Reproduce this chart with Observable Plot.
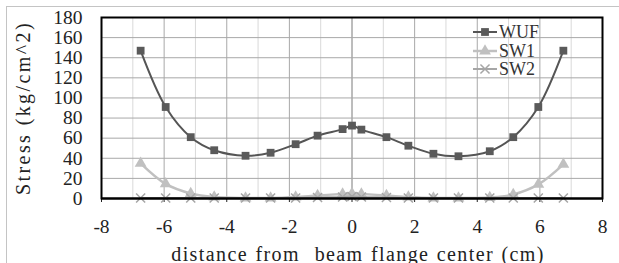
<!DOCTYPE html>
<html>
<head>
<meta charset="utf-8">
<script src="https://cdn.jsdelivr.net/npm/d3@7"></script>
<script src="https://cdn.jsdelivr.net/npm/@observablehq/plot@0.6"></script>
<style>
  html, body { margin: 0; padding: 0; background: #fff; }
  #wrap { position: relative; width: 619px; height: 263px; overflow: hidden; }
  #chart svg, #chart svg text { font-family: "Liberation Serif", serif !important; }
  #border { position: absolute; left: 6px; top: 6px; width: 640px; height: 300px;
            border-left: 1px solid #c4c4c4; border-top: 1px solid #c4c4c4; pointer-events: none; }
  #legend { position: absolute; left: 472px; top: 23px; font-family: "Liberation Serif", serif;
            font-size: 18px; line-height: 18.5px; color: #333; }
  #legend .row { display: flex; align-items: center; height: 18.5px; }
  #legend svg { display: block; margin-right: 1px; }
</style>
</head>
<body>
<div id="wrap">
  <div id="chart"></div>
  <div id="legend"></div>
  <div id="border"></div>
</div>
<script>
const distance = [-6.75, -5.95, -5.15, -4.4, -3.4, -2.6, -1.8, -1.1, -0.3, 0, 0.3, 1.1, 1.8, 2.6, 3.4, 4.4, 5.15, 5.95, 6.75];
const WUF = [147, 91, 61, 48, 42.5, 45.5, 54, 62.5, 69, 72.5, 68.5, 61, 52.5, 44.5, 42, 47, 61, 91, 147];
const SW1 = [35, 14.5, 5, 1.5, 0.5, 0.5, 1.5, 3, 4.5, 5, 4.5, 3, 1.5, 0.5, 0.5, 1, 4, 14, 34];
const SW2 = [0.5, 0.5, 0.5, 0.5, 0.5, 0.5, 0.5, 1, 1.5, 2, 1.5, 1, 0.5, 0.5, 0.5, 0.5, 0.5, 0.5, 0.5];
const seriesNames = ["WUF", "SW1", "SW2"];
const xTicks = [-8, -6, -4, -2, 0, 2, 4, 6, 8];
const yTicks = [0, 20, 40, 60, 80, 100, 120, 140, 160, 180];
const xTitle = "distance from  beam flange center (cm)";
const yTitle = "Stress (kg/cm^2)";

const seriesValues = {WUF, SW1, SW2};
const styles = {
  WUF: {stroke: "#555555", fill: "#5a5a5a", symbol: "square", r: 4.4, sw: 2},
  SW1: {stroke: "#c0c0c0", fill: "#c0c0c0", symbol: "triangle", r: 4.4, sw: 2.5},
  SW2: {stroke: "#a6a6a6", fill: "none", symbol: "times", r: 4.2, sw: 2}
};
const rows = seriesNames.flatMap(s => distance.map((d, i) => ({series: s, x: d, y: seriesValues[s][i]})));

const oddGrid = d3.range(-7, 8, 2);
const evenGrid = [-6, -4, -2, 2, 4, 6];

const marks = [
  Plot.ruleX(oddGrid, {x: d => d, stroke: "#d9d9d9", strokeWidth: 1}),
  Plot.ruleX(evenGrid, {x: d => d, stroke: "#a8a8a8", strokeWidth: 1}),
  Plot.ruleX([0], {x: d => d, stroke: "#7a7a7a", strokeWidth: 1}),
  Plot.ruleY(yTicks.slice(1), {y: d => d, stroke: "#a8a8a8", strokeWidth: 1}),
  Plot.axisX({ticks: xTicks, tickFormat: d => String(d), tickSize: 4, tickPadding: 17, fontSize: 19.5, label: null}),
  Plot.axisX({ticks: [], label: xTitle, labelAnchor: "center", labelArrow: "none", labelOffset: 62, fontSize: 20}),
  Plot.axisY({ticks: yTicks, tickFormat: d => String(d), tickSize: 0, tickPadding: 19, fontSize: 19.5, label: null}),
  Plot.axisY({ticks: [], label: yTitle, labelAnchor: "center", labelArrow: "none", labelOffset: 86, fontSize: 20})
];
for (const s of seriesNames) {
  const st = styles[s];
  const data = rows.filter(d => d.series === s);
  marks.push(Plot.line(data, {x: "x", y: "y", stroke: st.stroke, strokeWidth: st.sw, curve: "catmull-rom"}));
  marks.push(Plot.dot(data, {x: "x", y: "y", symbol: st.symbol, r: st.r,
    fill: st.fill === "none" ? null : st.fill, stroke: st.stroke, strokeWidth: st.fill === "none" ? 1.5 : 0}));
}
marks.push(Plot.ruleY([0], {y: d => d, stroke: "#000", strokeWidth: 2}));
marks.push(Plot.frame({stroke: "#000", strokeWidth: 2}));

const chart = Plot.plot({
  width: 619,
  height: 263,
  marginLeft: 101,
  marginRight: 17,
  marginTop: 17,
  marginBottom: 65,
  x: {domain: [-8, 8]},
  y: {domain: [0, 180]},
  style: {fontFamily: "Liberation Serif, serif", fontSize: "19px", color: "#222", background: "#fff", overflow: "visible"},
  marks
});
document.getElementById("chart").appendChild(chart);
const svgSel = d3.select(chart);
svgSel.selectAll("text").style("white-space", "pre").attr("fill", "#222");
svgSel.selectAll("text").filter(function () { return this.textContent.trim() === xTitle.trim(); })
  .style("letter-spacing", "1.4px").style("word-spacing", "1px").attr("dx", 6);
svgSel.selectAll("text").filter(function () { return this.textContent.trim() === yTitle.trim(); })
  .style("letter-spacing", "2.4px");

// legend
const leg = document.getElementById("legend");
for (const s of seriesNames) {
  const st = styles[s];
  const row = document.createElement("div");
  row.className = "row";
  const svg = d3.create("svg").attr("width", 26).attr("height", 18);
  svg.append("line").attr("x1", 1).attr("x2", 25).attr("y1", 9).attr("y2", 9)
    .attr("stroke", st.stroke).attr("stroke-width", st.sw);
  const sym = {square: d3.symbolSquare, triangle: d3.symbolTriangle, times: d3.symbolTimes}[st.symbol];
  svg.append("path").attr("transform", "translate(13,9)")
    .attr("d", d3.symbol(sym, Math.PI * st.r * st.r)())
    .attr("fill", st.fill).attr("stroke", st.fill === "none" ? st.stroke : "none").attr("stroke-width", 1.5);
  row.appendChild(svg.node());
  const t = document.createElement("span");
  t.textContent = s;
  row.appendChild(t);
  leg.appendChild(row);
}
</script>
</body>
</html>
